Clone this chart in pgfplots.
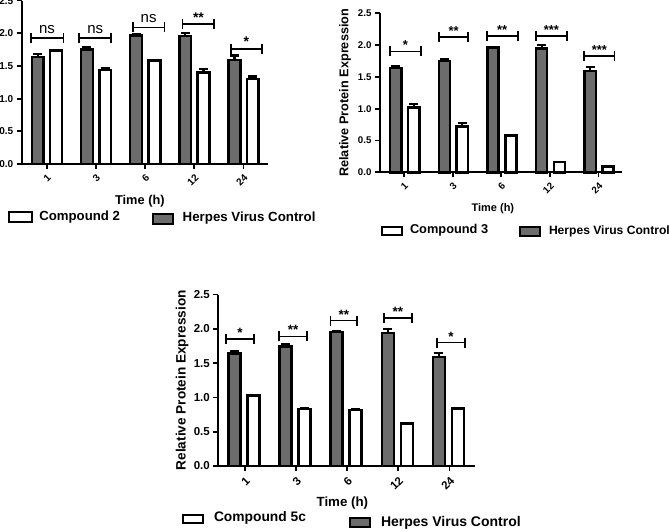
\documentclass[border=0pt]{standalone}
\usepackage{fontspec}
\setmainfont{Liberation Sans}
\usepackage{pgfplots}
\usepackage{pgfplotstable}
\pgfplotsset{compat=1.18}
\definecolor{darkbar}{RGB}{108,108,108}

% Panel 1: Herpes Virus Control vs Compound 2
\pgfplotstableread{
ctrl  ctrle  cmp    cmpe
1.64  0.04   1.735  0.008
1.75  0.04   1.44   0.025
1.965 0.015  1.58   0.008
1.96  0.05   1.40   0.05
1.59  0.07   1.30   0.04
}\pOne
% Panel 2: Herpes Virus Control vs Compound 3
\pgfplotstableread{
ctrl  ctrle  cmp    cmpe
1.64  0.03   1.02   0.06
1.75  0.03   0.72   0.06
1.96  0.01   0.575  0.01
1.95  0.05   0.16   0.005
1.59  0.06   0.09   0.005
}\pTwo
% Panel 3: Herpes Virus Control vs Compound 5c
\pgfplotstableread{
ctrl  ctrle  cmp    cmpe
1.64  0.04   1.03   0.008
1.74  0.04   0.83   0.008
1.95  0.02   0.82   0.008
1.94  0.06   0.62   0.008
1.59  0.06   0.84   0.01
}\pThree

\newcommand{\fs}[1]{\fontsize{#1}{#1}\selectfont}

% bracket: x, y, left off, right off, centre off, text, text yshift
\newcommand{\sig}[7]{%
  \draw[line width=1.6pt] ([xshift=#3pt,yshift=-5pt]axis cs:#1,#2) -- ([xshift=#3pt,yshift=5pt]axis cs:#1,#2);
  \draw[line width=1.6pt] ([xshift=#3pt]axis cs:#1,#2) -- ([xshift=#4pt]axis cs:#1,#2);
  \draw[line width=1.6pt] ([xshift=#4pt,yshift=-5pt]axis cs:#1,#2) -- ([xshift=#4pt,yshift=5pt]axis cs:#1,#2);
  \node[anchor=base, inner sep=0pt] at ([xshift=#5pt,yshift=#7pt]axis cs:#1,#2) {#6};
}

\pgfplotsset{
  panel/.style={
    scale only axis,
    axis x line*=bottom, axis y line*=left,
    axis line style={-, line width=2.2pt},
    ymin=0, ymax=2.5,
    ytick={0,0.5,1,1.5,2,2.5},
    xtick={0,1,2,3,4}, xticklabels={1,3,6,12,24},
    tick align=outside,
    major tick length=5pt,
    tick style={line width=1.8pt, black},
    /pgf/number format/assume math mode=true,
    yticklabel style={/pgf/number format/fixed, /pgf/number format/fixed zerofill, /pgf/number format/precision=1},
    x tick label style={rotate=45, anchor=north east},
    every axis x label/.style={at={(rel axis cs:0.5,0)}, anchor=center},
    every axis y label/.style={at={(rel axis cs:0,0.5)}, anchor=center, rotate=90},
    clip=false,
  },
  errb/.style={
    error bars/y dir=plus, error bars/y explicit,
    error bars/error bar style={line width=2.2pt, black},
    error bars/error mark options={rotate=90, line width=2.2pt, mark size=4.5pt, black}},
  darkb/.style={ybar, bar shift=0pt, fill=darkbar, draw=black, line width=2.5pt, errb},
  whiteb/.style={ybar, bar shift=0pt, fill=white, draw=black, line width=2.5pt, errb},
}

\begin{document}
\begin{tikzpicture}[x=1pt,y=1pt]
\useasboundingbox (0,0) rectangle (669,531);
\clip (0,0) rectangle (669,531);

% ---------------- Panel 1: Compound 2 ----------------
\begin{axis}[panel,
  at={(21.7pt,367pt)}, anchor=south west,
  width=246.3pt, height=163.4pt,
  xmin=-0.51, xmax=4.5,
  tick label style={font=\bfseries\fs{10}},
  xlabel={Time (h)},
  xlabel style={font=\bfseries\fs{12.8}, yshift=-37pt, xshift=-5pt},
]
\addplot[darkb, bar width=11.8pt] table[x expr=\coordindex-0.183, y=ctrl, y error=ctrle] {\pOne};
\addplot[whiteb, bar width=11.8pt] table[x expr=\coordindex+0.189, y=cmp, y error=cmpe] {\pOne};
\sig{0}{1.925}{-16}{16.6}{0.3}{\fs{15}ns}{5}
\sig{1}{1.925}{-16.7}{15.3}{-0.7}{\fs{15}ns}{5}
\sig{2}{2.09}{-12.3}{19.3}{3.5}{\fs{15}ns}{5}
\sig{3}{2.14}{-11.6}{20}{4.2}{\bfseries\fs{14}**}{2}
\sig{4}{1.76}{-12.6}{18.7}{3}{\bfseries\fs{14}*}{2}
\end{axis}

% ---------------- Panel 2: Compound 3 ----------------
\begin{axis}[panel,
  at={(380pt,358.7pt)}, anchor=south west,
  width=241.7pt, height=159pt,
  xmin=-0.494, xmax=4.479,
  tick label style={font=\bfseries\fs{9.7}},
  xlabel={Time (h)},
  xlabel style={font=\bfseries\fs{11}, yshift=-36.7pt, xshift=-8pt},
  ylabel={Relative Protein Expression},
  ylabel style={font=\bfseries\fs{12.7}, yshift=35pt},
]
\addplot[darkb, bar width=11.2pt] table[x expr=\coordindex-0.169, y=ctrl, y error=ctrle] {\pTwo};
\addplot[whiteb, bar width=11.2pt] table[x expr=\coordindex+0.2, y=cmp, y error=cmpe] {\pTwo};
\sig{0}{1.90}{-14}{17}{1.5}{\bfseries\fs{13}*}{1.5}
\sig{1}{2.13}{-13.7}{15.6}{1}{\bfseries\fs{13}**}{1.5}
\sig{2}{2.14}{-14.4}{16.6}{1}{\bfseries\fs{13}**}{1.5}
\sig{3}{2.14}{-14}{17.3}{1.6}{\bfseries\fs{13}***}{1.5}
\sig{4}{1.83}{-14.3}{16}{1}{\bfseries\fs{13}***}{1.5}
\end{axis}

% ---------------- Panel 3: Compound 5c ----------------
\begin{axis}[panel,
  at={(218.3pt,65pt)}, anchor=south west,
  width=256.7pt, height=171.5pt,
  xmin=-0.5225, xmax=4.501,
  tick label style={font=\bfseries\fs{11.5}},
  xlabel={Time (h)},
  xlabel style={font=\bfseries\fs{13.3}, yshift=-37pt, xshift=-4.3pt},
  ylabel={Relative Protein Expression},
  ylabel style={font=\bfseries\fs{13.6}, yshift=36.3pt},
]
\addplot[darkb, bar width=12pt] table[x expr=\coordindex-0.205, y=ctrl, y error=ctrle] {\pThree};
\addplot[whiteb, bar width=12pt] table[x expr=\coordindex+0.166, y=cmp, y error=cmpe] {\pThree};
\sig{0}{1.85}{-19}{9}{-5}{\bfseries\fs{13.5}*}{1.5}
\sig{1}{1.89}{-17}{11}{-3}{\bfseries\fs{13.5}**}{1.5}
\sig{2}{2.12}{-16.7}{10}{-3.3}{\bfseries\fs{13.5}**}{1.5}
\sig{3}{2.16}{-14.3}{13.4}{-0.5}{\bfseries\fs{13.5}**}{1.5}
\sig{4}{1.80}{-12.7}{15.7}{1.5}{\bfseries\fs{13.5}*}{1.5}
\end{axis}

% ---------------- Legends ----------------
\begin{scope}[line width=2pt]
% panel 1
\draw[fill=white] (9.3,309.3) rectangle (31.7,318.7);
\node[anchor=west, inner sep=0pt, font=\bfseries\fs{13.2}] at (38.3,314.3) {Compound 2};
\draw[fill=darkbar] (152.7,306.7) rectangle (172.7,316.7);
\node[anchor=west, inner sep=0pt, font=\bfseries\fs{13.3}] at (181.7,312.7) {Herpes Virus Control};
% panel 2
\draw[fill=white] (382,296) rectangle (402,304.3);
\node[anchor=west, inner sep=0pt, font=\bfseries\fs{12.8}] at (409,301) {Compound 3};
\draw[fill=darkbar] (520,295) rectangle (540,304);
\node[anchor=west, inner sep=0pt, font=\bfseries\fs{12.1}] at (548,300) {Herpes Virus Control};
% panel 3
\draw[fill=white] (183,8) rectangle (203,16);
\node[anchor=west, inner sep=0pt, font=\bfseries\fs{13.8}] at (213,12.7) {Compound 5c};
\draw[fill=darkbar] (350,4) rectangle (370,13);
\node[anchor=west, inner sep=0pt, font=\bfseries\fs{14}] at (380,8.5) {Herpes Virus Control};
\end{scope}
\end{tikzpicture}
\end{document}
